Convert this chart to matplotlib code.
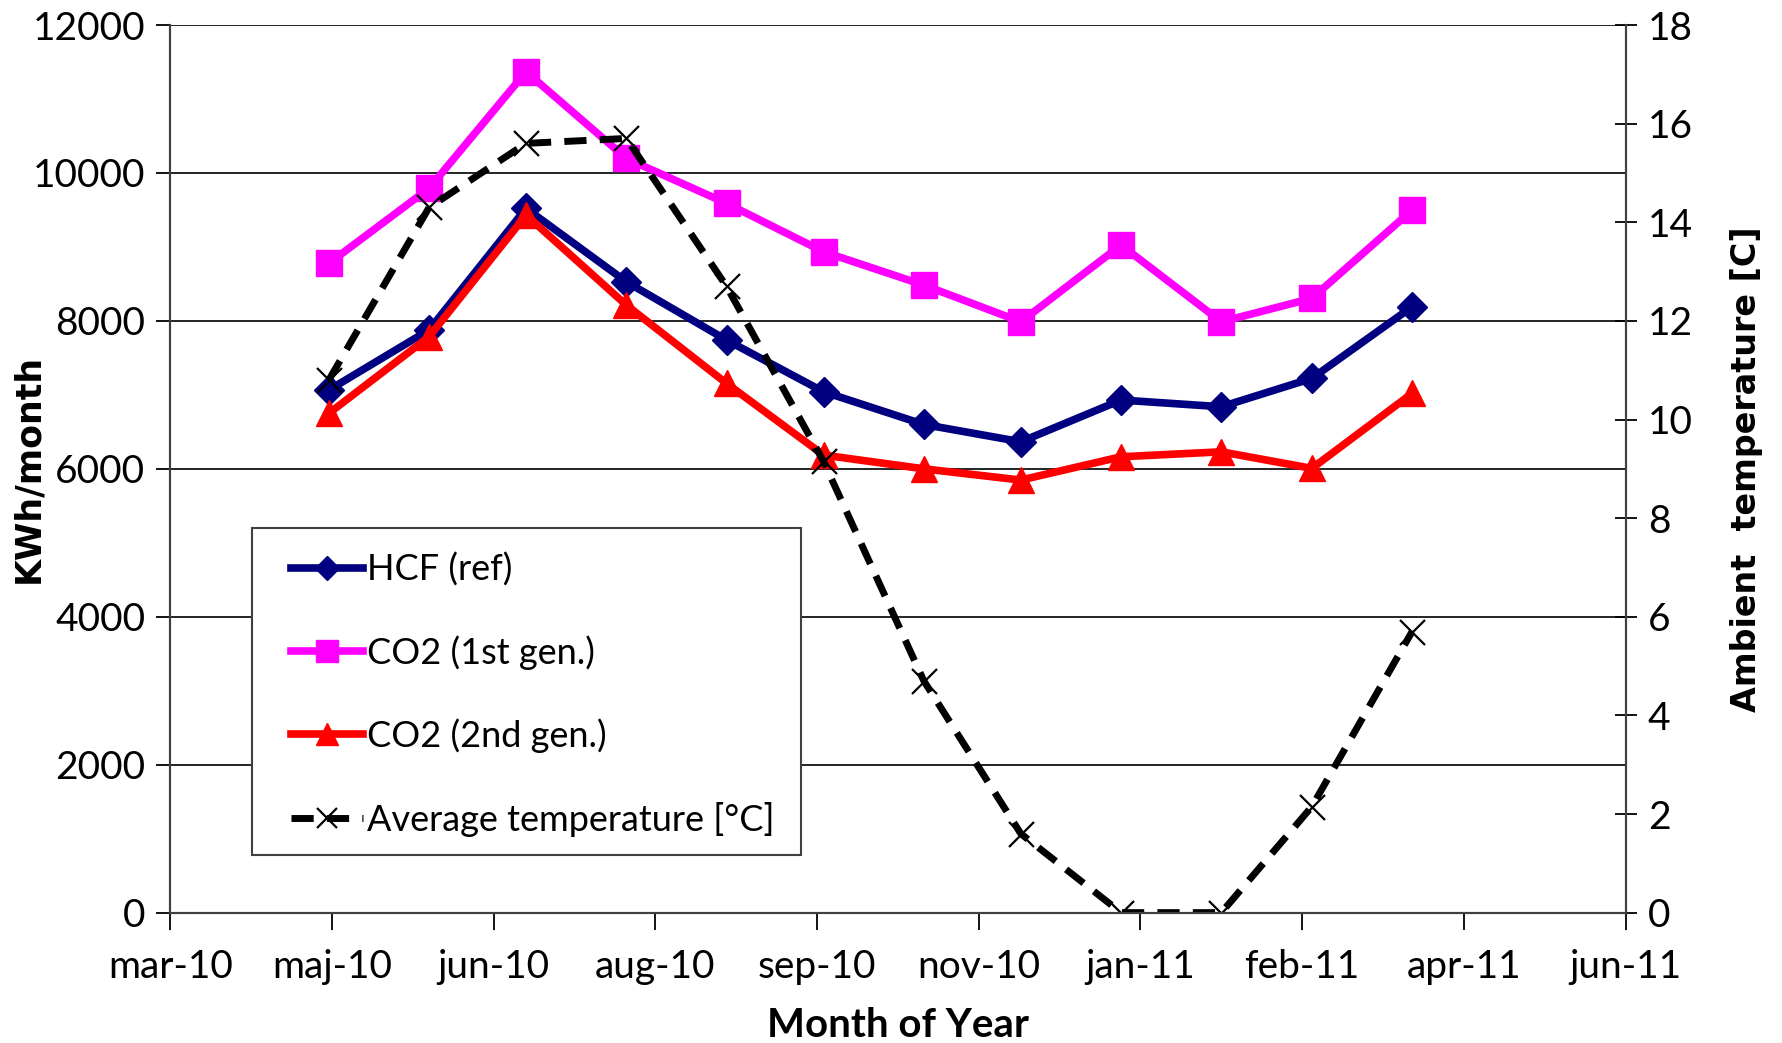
import matplotlib
matplotlib.use('Agg')
import matplotlib.pyplot as plt
import matplotlib.dates as mdates
import matplotlib.patches as patches
import numpy as np
import datetime as dt

# monthly values
meses = ['2010-05-01', '2010-06-01', '2010-07-01', '2010-08-01', '2010-09-01', '2010-10-01',
         '2010-11-01', '2010-12-01', '2011-01-01', '2011-02-01', '2011-03-01', '2011-04-01']
hcf = [7065, 7877, 9521, 8529, 7741, 7042, 6600, 6366, 6930, 6839, 7223, 8191]
co2_1 = [8778, 9792, 11369, 10197, 9589, 8935, 8484, 7988, 9025, 7988, 8305, 9498]
co2_2 = [6750, 7786, 9431, 8214, 7155, 6186, 6000, 5848, 6163, 6230, 6006, 7020]
temp = [10.8, 14.3, 15.6, 15.7, 12.7, 9.15, 4.7, 1.6, 0.0, 0.0, 2.15, 5.7]

# eixo x: Excel date axis, major unit 50 days
inicio_x = dt.date(2010, 3, 13)
passo_dias = 50
rotulos_x = ['mar-10', 'maj-10', 'jun-10', 'aug-10', 'sep-10',
             'nov-10', 'jan-11', 'feb-11', 'apr-11', 'jun-11']

fonte = 'Lato'
plt.rcParams['font.family'] = [fonte, 'DejaVu Sans']

datas = [dt.datetime.strptime(m, '%Y-%m-%d') for m in meses]
ticks_x = [inicio_x + dt.timedelta(days=passo_dias * i) for i in range(len(rotulos_x))]

fig = plt.figure(figsize=(17.82, 10.43), dpi=100)
ax = fig.add_axes([0.0956, 0.125, 0.8166, 0.851])
ax2 = ax.twinx()

ax.plot(datas, hcf, color='#000080', lw=5.5, marker='D', ms=15, label='HCF (ref)')
ax.plot(datas, co2_1, color='#FF00FF', lw=5.5, marker='s', ms=19, label='CO2 (1st gen.)')
ax.plot(datas, co2_2, color='#FF0000', lw=5.5, marker='^', ms=19, label='CO2 (2nd gen.)')
ax2.plot(datas, temp, color='black', lw=5, dashes=(3.2, 1.9), marker='x', ms=18, mew=1.6,
         label='Average temperature [\u00b0C]')

ax.set_xlim(mdates.date2num(ticks_x[0]), mdates.date2num(ticks_x[-1]))
ax.set_xticks(mdates.date2num(ticks_x))
ax.set_xticklabels(rotulos_x)
ax.set_ylim(0, 12000)
ax.set_yticks(np.arange(0, 12001, 2000))
ax2.set_ylim(0, 18)
ax2.set_yticks(np.arange(0, 19, 2))

ax.yaxis.grid(True, color='black', lw=1.2)
ax.set_axisbelow(True)
ax.spines['top'].set_visible(False)
ax2.spines['top'].set_visible(False)
for a in (ax, ax2):
    for s in a.spines.values():
        s.set_color('#404040')
        s.set_linewidth(1.5)

ax.tick_params(axis='y', direction='out', length=10, width=1.3, labelsize=28, pad=8)
ax.tick_params(axis='x', direction='out', length=12, width=1.3, labelsize=28, pad=14)
ax2.tick_params(axis='y', direction='inout', length=16, width=1.3, labelsize=28, pad=8)

ax.set_xlabel('Month of Year', fontsize=29, fontweight='bold', labelpad=16)
ax.set_ylabel('KWh/month', fontsize=25, fontweight='bold', family='DejaVu Sans', va='center')
ax.yaxis.set_label_coords(-0.0976, 0.5)
ax2.set_ylabel('Ambient  temperature [C]', fontsize=24, fontweight='bold', family='DejaVu Sans',
               va='center')
ax2.yaxis.set_label_coords(1.0833, 0.5)

# caixa da legenda desenhada à parte
caixa = patches.Rectangle((0.056, 0.0648), 0.3774, 0.3684, transform=ax2.transAxes,
                          facecolor='white', edgecolor='#404040', linewidth=1.5, zorder=4.5)
ax2.add_patch(caixa)

h1, l1 = ax.get_legend_handles_labels()
h2, l2 = ax2.get_legend_handles_labels()
leg = ax2.legend(h1 + h2, l1 + l2, loc='upper left', bbox_to_anchor=(0.0828, 0.406),
                 fontsize=26, frameon=False, handlelength=2.0, handletextpad=0.1,
                 labelspacing=1.35, borderpad=0, borderaxespad=0, numpoints=1,
                 markerscale=0.8)
leg.set_zorder(6)

fig.savefig('out.png', dpi=100)
